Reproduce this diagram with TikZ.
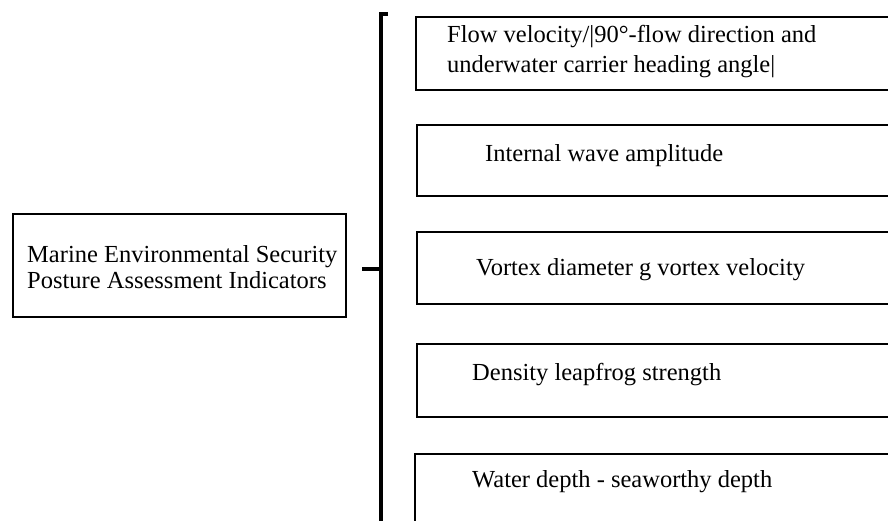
\documentclass[tikz,border=0pt]{standalone}
\usepackage{fontspec}
\setmainfont{Liberation Serif}
\usetikzlibrary{positioning}

\tikzset{
  frame/.style={draw, line width=1.8pt, inner sep=0pt, anchor=north west, minimum width=520pt},
  txt/.style={inner sep=0pt, anchor=base west, align=left, font=\fontsize{24.5}{30}\selectfont},
  bracket/.style={line width=3.5pt}
}

\begin{document}
\begin{tikzpicture}[x=1pt,y=-1pt]
    \useasboundingbox (0,0) rectangle (888,521);
    \clip (0,0) rectangle (888,521);

    % root box
    \node[frame, minimum width=333pt, minimum height=103pt] (root) at (12,213) {};
    \node[txt, font=\fontsize{24.5}{25.5}\selectfont] (rootText) at (27,288) {Marine Environmental Security\\Posture Assessment Indicators};

    % indicator boxes
    \node[frame, minimum height=73pt] (flow) at (415,16) {};
    \node[frame, minimum height=71pt] (wave) at (416,124) {};
    \node[frame, minimum height=72pt] (vortex) at (416,231) {};
    \node[frame, minimum height=73pt] (density) at (416,343) {};
    \node[frame, minimum height=73pt] (depth) at (414,453) {};

    \node[txt] (flowText) at (447,73) {Flow velocity/|90°-flow direction and\\underwater carrier heading angle|};
    \node[txt] (waveText) at (485,162) {Internal wave amplitude};
    \node[txt] (vortexText) at (476,275) {Vortex diameter g vortex velocity};
    \node[txt] (densityText) at (472,380) {Density leapfrog strength};
    \node[txt] (depthText) at (472,487) {Water depth - seaworthy depth};

    % bracket
    \coordinate (hook) at (388,14);
    \coordinate (corner) at (381,14);
    \coordinate (foot) at (381,530);
    \coordinate (join) at (381,269);
    \coordinate (tick) at (362,269);

    \draw[bracket] (hook) -- (corner) -- (foot);
    % root -> bracket
    \draw[bracket] (tick) -- (join);
\end{tikzpicture}
\end{document}
